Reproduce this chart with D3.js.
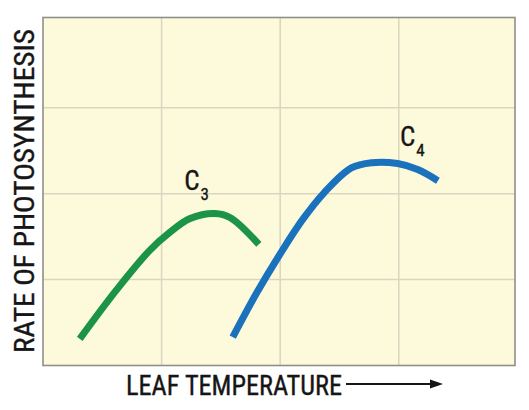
<!DOCTYPE html>
<html><head><meta charset="utf-8">
<script src="https://cdn.jsdelivr.net/npm/d3@7"></script>
<style>
html,body{margin:0;padding:0;background:#fff;}
svg{display:block;}
text{font-family:"Roboto Condensed","DejaVu Sans Condensed","Liberation Sans Narrow",Roboto,sans-serif;fill:#161616;stroke:#161616;stroke-width:0.35px;}
</style></head>
<body>
<svg id="c" width="529" height="410"></svg>
<script>
// Data (in grid units: x = leaf temperature, y = rate of photosynthesis)
const c3X = [0.31, 0.62, 0.90, 1.07, 1.24, 1.45, 1.58, 1.82];
const c3Y = [0.31, 0.88, 1.34, 1.55, 1.71, 1.77, 1.72, 1.41];
const c4X = [1.60, 1.80, 2.00, 2.19, 2.37, 2.60, 2.77, 2.99, 3.16, 3.33];
const c4Y = [0.33, 0.84, 1.30, 1.70, 2.01, 2.30, 2.36, 2.35, 2.28, 2.15];
const xTicks = [1, 2, 3];
const yTicks = [1, 2, 3];
const xTitle = "LEAF TEMPERATURE";
const yTitle = "RATE OF PHOTOSYNTHESIS";
const seriesSubs = ["3", "4"];

const svg = d3.select("#c");
const L = 43, R = 515, T = 17.5, B = 365.5;
const x = d3.scaleLinear().domain([0, 3.98]).range([L, R]);
const y = d3.scaleLinear().domain([0, 4.05]).range([B, T]);

svg.append("rect").attr("x", L).attr("y", T).attr("width", R - L).attr("height", B - T)
  .attr("fill", "#fdfadc");

// grid
svg.append("g").selectAll("line").data(xTicks).join("line")
  .attr("x1", d => x(d)).attr("x2", d => x(d)).attr("y1", T).attr("y2", B)
  .attr("stroke", "#d9d5c0").attr("stroke-width", 1.5);
svg.append("g").selectAll("line").data(yTicks).join("line")
  .attr("y1", d => y(d)).attr("y2", d => y(d)).attr("x1", L).attr("x2", R)
  .attr("stroke", "#d9d5c0").attr("stroke-width", 1.5);

// frame
svg.append("rect").attr("x", L).attr("y", T).attr("width", R - L).attr("height", B - T)
  .attr("fill", "none").attr("stroke", "#8f8f8a").attr("stroke-width", 1.6);

const line = d3.line().x(d => x(d[0])).y(d => y(d[1])).curve(d3.curveCatmullRom.alpha(0.5));
const c3 = c3X.map((v, i) => [v, c3Y[i]]);
const c4 = c4X.map((v, i) => [v, c4Y[i]]);

svg.append("path").attr("d", line(c3)).attr("fill", "none")
  .attr("stroke", "#1b9447").attr("stroke-width", 7).attr("stroke-linecap", "butt");
svg.append("path").attr("d", line(c4)).attr("fill", "none")
  .attr("stroke", "#1a72bc").attr("stroke-width", 7).attr("stroke-linecap", "butt");

// series labels
function label(px, py, sub) {
  const t = svg.append("text").attr("x", px).attr("y", py).attr("font-size", 27);
  t.append("tspan").text("C");
  t.append("tspan").attr("dx", 1).attr("dy", 10).attr("font-size", 17).text(sub);
}
label(x(1.19), y(2.04), seriesSubs[0]);
label(x(3.01), y(2.55), seriesSubs[1]);

// axis titles
svg.append("text").attr("x", 126).attr("y", 395).attr("font-size", 27)
  .attr("textLength", 216).attr("lengthAdjust", "spacingAndGlyphs").text(xTitle);
svg.append("text").attr("transform", "translate(34,353) rotate(-90)").attr("font-size", 27)
  .attr("textLength", 324).attr("lengthAdjust", "spacingAndGlyphs").text(yTitle);

// arrow
svg.append("line").attr("x1", 346).attr("x2", 432).attr("y1", 384).attr("y2", 384)
  .attr("stroke", "#161616").attr("stroke-width", 2);
svg.append("path").attr("d", "M430,379.5 L443,384 L430,388.5 Z").attr("fill", "#161616");
</script>
</body></html>
